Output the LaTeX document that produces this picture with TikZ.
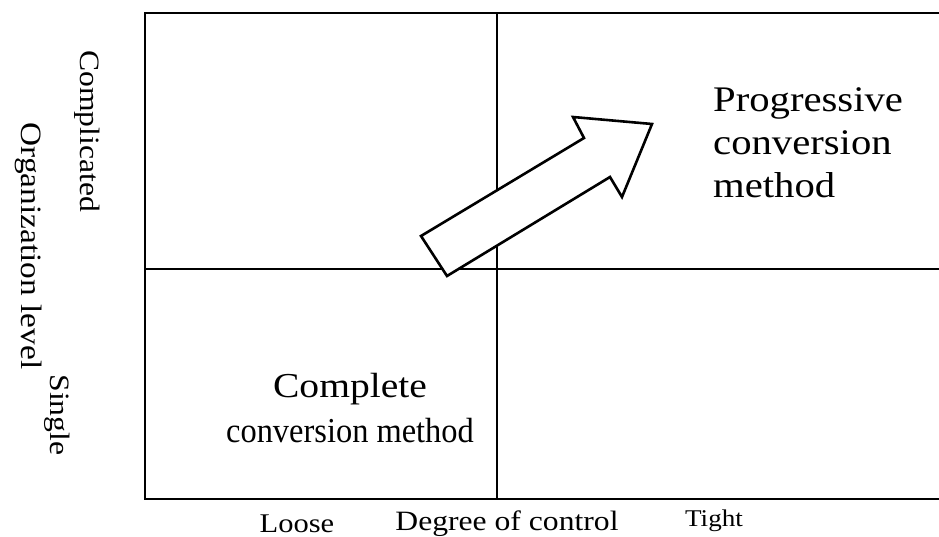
\documentclass[tikz,border=0pt]{standalone}
\usepackage{fontspec}
\setmainfont{Liberation Serif}[FakeStretch=1.13]
\begin{document}
\begin{tikzpicture}[x=1pt,y=-1pt,
  frame/.style={line width=2.4pt},
  divider/.style={line width=1.8pt},
  bigarrow/.style={line width=2.6pt,line join=miter,fill=white},
  axislabel/.style={inner sep=0pt,font=\fontsize{28}{32}\selectfont},
  ticklabel/.style={inner sep=0pt,anchor=base,font=\fontsize{27}{32}\selectfont},
  quadtext/.style={inner sep=0pt}]
\useasboundingbox (0,0) rectangle (939,537);
% corners and midpoints of the grid
\coordinate (tl) at (145,13);
\coordinate (bl) at (145,499);
\coordinate (tr) at (939,13);
\coordinate (br) at (939,499);
\coordinate (ml) at (145,269);
\coordinate (mr) at (939,269);
\coordinate (mt) at (497,13);
\coordinate (mb) at (497,499);
% open-ended frame and the two dividing lines
\draw[frame] (tr) -- (tl) -- (bl) -- (br);
\draw[divider] (ml) -- (mr);
\draw[divider] (mt) -- (mb);
% block arrow from the lower-left quadrant into the upper-right one
\coordinate (a1) at (421,236);
\coordinate (a2) at (584,138);
\coordinate (a3) at (573,117);
\coordinate (a4) at (652,124);
\coordinate (a5) at (622,197);
\coordinate (a6) at (610,177);
\coordinate (a7) at (447,276);
\draw[bigarrow] (a1) -- (a2) -- (a3) -- (a4) -- (a5) -- (a6) -- (a7) -- cycle;
% quadrant texts
\node[quadtext,anchor=north west,align=left,font=\fontsize{36}{43}\selectfont]
  (prog) at (713,87) {Progressive\\conversion\\method};
\node[quadtext,anchor=north,align=center,font=\fontsize{35}{45}\selectfont]
  (comp) at (350,373) {Complete\\\scalebox{0.82}[1]{conversion method}};
% vertical axis labels
\node[axislabel,rotate=-90,anchor=base] (compl) at (80,131) {Complicated};
\node[axislabel,rotate=-90,anchor=base,font=\fontsize{29.5}{32}\selectfont] (org) at (21,246) {Organization level};
\node[axislabel,rotate=-90,anchor=base] (single) at (50,415) {Single};
% horizontal axis labels
\node[ticklabel] (loose) at (297,532) {Loose};
\node[ticklabel,font=\fontsize{28}{32}\selectfont] (degree) at (507,530) {Degree of control};
\node[ticklabel,font=\fontsize{24}{28}\selectfont] (tight) at (714,526) {Tight};
\end{tikzpicture}
\end{document}
